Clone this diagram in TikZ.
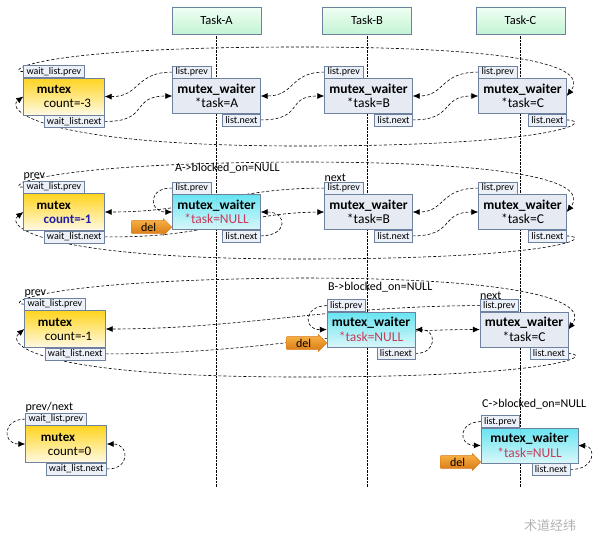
\documentclass[tikz,border=0pt]{standalone}
\usepackage{fontspec}
\setmainfont{Carlito}
\newfontfamily\cjk{Noto Sans CJK SC}
\usetikzlibrary{arrows.meta,shapes.arrows,backgrounds}

\definecolor{lineblue}{RGB}{110,130,160}
\definecolor{lblfill}{RGB}{236,240,248}
\definecolor{wtrfill}{RGB}{230,234,243}
\definecolor{mtxtop}{RGB}{255,212,30}
\definecolor{mtxbot}{RGB}{255,250,228}
\definecolor{cyantop}{RGB}{70,226,240}
\definecolor{cyanbot}{RGB}{214,250,252}
\definecolor{tasktop}{RGB}{240,255,244}
\definecolor{taskbot}{RGB}{196,243,212}
\definecolor{deltop}{RGB}{250,180,70}
\definecolor{delbot}{RGB}{215,120,20}
\definecolor{nullred}{RGB}{200,60,90}
\definecolor{cntblue}{RGB}{30,30,170}

\tikzset{
  task/.style={draw=lineblue, top color=tasktop, bottom color=taskbot, minimum width=89pt, minimum height=27pt, font=\fontsize{12.5}{14}\selectfont},
  mtx/.style={draw=lineblue, top color=mtxtop, bottom color=mtxbot, minimum width=81pt, minimum height=37pt, align=left, inner sep=1pt, font=\fontsize{13}{14}\selectfont},
  wtr/.style={draw=lineblue, fill=wtrfill, minimum width=88pt, minimum height=35pt, align=center, inner sep=1pt, font=\fontsize{13.5}{14.5}\selectfont},
  wtrnull/.style={wtr, top color=cyantop, bottom color=cyanbot, fill opacity=0.8, text opacity=1},
  lbl/.style={draw=lineblue, fill=lblfill, inner xsep=3pt, inner ysep=0pt, minimum height=12pt, font=\fontsize{10}{11}\selectfont},
  conn/.style={densely dashed, line width=0.6pt, -{Latex[length=7pt,width=6pt]}},
  delarrow/.style={single arrow, draw=delbot, top color=deltop, bottom color=delbot, minimum height=40pt, single arrow head extend=2pt, inner sep=2pt, font=\fontsize{12}{13}\selectfont},
  note/.style={inner sep=0pt, font=\fontsize{12}{13}\selectfont},
}

\begin{document}
\begin{tikzpicture}[x=1pt,y=-1pt]
\useasboundingbox (0,0) rectangle (596,551);

% tasks
\node[task] (ta) at (216.5,20.5) {Task-A};
\node[task] (tb) at (367,20.5) {Task-B};
\node[task] (tc) at (520.5,20.5) {Task-C};
\coordinate (bot) at (0,487);

% row 1: three waiters
\node[mtx] (m1) at (64,96.5) {\textbf{mutex}\\\hspace*{7pt}count=-3};
\node[lbl, anchor=south west] (m1p) at (m1.north west) {wait\_list.prev};
\node[lbl, anchor=north east] (m1n) at (m1.south east) {wait\_list.next};

\node[wtr] (a1) at (216.5,96) {\textbf{mutex\_waiter}\\*task=A};
\node[lbl, anchor=south west] (a1p) at (a1.north west) {list.prev};
\node[lbl, anchor=north east] (a1n) at (a1.south east) {list.next};

\node[wtr] (b1) at (368.5,96) {\textbf{mutex\_waiter}\\*task=B};
\node[lbl, anchor=south west] (b1p) at (b1.north west) {list.prev};
\node[lbl, anchor=north east] (b1n) at (b1.south east) {list.next};

\node[wtr] (c1) at (522.5,96) {\textbf{mutex\_waiter}\\*task=C};
\node[lbl, anchor=south west] (c1p) at (c1.north west) {list.prev};
\node[lbl, anchor=north east] (c1n) at (c1.south east) {list.next};

% row 2: A removed
\node[mtx] (m2) at (64,212) {\textbf{mutex}\\\hspace*{7pt}\textcolor{cntblue}{\textbf{count=-1}}};
\node[lbl, anchor=south west] (m2p) at (m2.north west) {wait\_list.prev};
\node[lbl, anchor=north east] (m2n) at (m2.south east) {wait\_list.next};
\node[note, anchor=south west] (pv2) at (m2p.north west) {prev};

\node[wtrnull] (a2) at (216.5,212) {\textbf{mutex\_waiter}\\\textcolor{nullred}{*task=NULL}};
\node[lbl, anchor=south west] (a2p) at (a2.north west) {list.prev};
\node[lbl, anchor=north east] (a2n) at (a2.south east) {list.next};
\node[note, anchor=west] (na2) at (175,168) {A->blocked\_on=NULL};
\node[delarrow, anchor=tip] (d2) at (172,227) {del};

\node[wtr] (b2) at (368.5,212) {\textbf{mutex\_waiter}\\*task=B};
\node[lbl, anchor=south west] (b2p) at (b2.north west) {list.prev};
\node[lbl, anchor=north east] (b2n) at (b2.south east) {list.next};
\node[note, anchor=south west] (nx2) at (b2p.north west) {next};

\node[wtr] (c2) at (522.5,212) {\textbf{mutex\_waiter}\\*task=C};
\node[lbl, anchor=south west] (c2p) at (c2.north west) {list.prev};
\node[lbl, anchor=north east] (c2n) at (c2.south east) {list.next};

% row 3: B removed
\node[mtx] (m3) at (65,329) {\textbf{mutex}\\\hspace*{7pt}count=-1};
\node[lbl, anchor=south west] (m3p) at (m3.north west) {wait\_list.prev};
\node[lbl, anchor=north east] (m3n) at (m3.south east) {wait\_list.next};
\node[note, anchor=south west] (pv3) at (m3p.north west) {prev};

\node[wtrnull] (b3) at (371,329.5) {\textbf{mutex\_waiter}\\\textcolor{nullred}{*task=NULL}};
\node[lbl, anchor=south west] (b3p) at (b3.north west) {list.prev};
\node[lbl, anchor=north east] (b3n) at (b3.south east) {list.next};
\node[note, anchor=west] (nb3) at (328,287) {B->blocked\_on=NULL};
\node[delarrow, anchor=tip] (d3) at (327,343) {del};

\node[wtr] (c3) at (524,329.5) {\textbf{mutex\_waiter}\\*task=C};
\node[lbl, anchor=south west] (c3p) at (c3.north west) {list.prev};
\node[lbl, anchor=north east] (c3n) at (c3.south east) {list.next};
\node[note, anchor=south west] (nx3) at (c3p.north west) {next};

% row 4: C removed, list empty
\node[mtx] (m4) at (66,444) {\textbf{mutex}\\\hspace*{7pt}count=0};
\node[lbl, anchor=south west] (m4p) at (m4.north west) {wait\_list.prev};
\node[lbl, anchor=north east] (m4n) at (m4.south east) {wait\_list.next};
\node[note, anchor=south west] (pv4) at (m4p.north west) {prev/next};

\node[wtrnull, minimum width=97pt] (c4) at (529.5,445.5) {\textbf{mutex\_waiter}\\\textcolor{nullred}{*task=NULL}};
\node[lbl, anchor=south west] (c4p) at (c4.north west) {list.prev};
\node[lbl, anchor=north east] (c4n) at ([xshift=-8pt]c4.south east) {list.next};
\node[note, anchor=west] (nc4) at (482,404) {C->blocked\_on=NULL};
\node[delarrow, anchor=tip] (d4) at (481,462) {del};

\node[text=gray!60, font=\cjk\fontsize{13}{14}\selectfont] (wm) at (550,526) {术道经纬};

\begin{pgfonlayer}{background}
\draw[densely dotted] (ta.south) -- (ta.south |- bot);
\draw[densely dotted] (tb.south) -- (tb.south |- bot);
\draw[densely dotted] (tc.south) -- (tc.south |- bot);

% row 1
\draw[conn] (m1n.east) .. controls (150,122) and (130,96) .. (a1.west);
\draw[conn] (a1p.west) .. controls (135,72) and (140,97) .. (m1.east);
\draw[conn] (a1n.east) .. controls (305,120) and (285,96) .. (b1.west);
\draw[conn] (b1p.west) .. controls (290,72) and (295,96) .. (a1.east);
\draw[conn] (b1n.east) .. controls (455,120) and (440,96) .. (c1.west);
\draw[conn] (c1p.west) .. controls (440,72) and (445,96) .. (b1.east);
\draw[conn] (m1p.west) .. controls (5,72) and (30,47) .. (300,47) .. controls (520,47) and (590,66) .. (c1.east);
\draw[conn] (c1n.east) .. controls (595,121) and (560,146) .. (300,146) .. controls (40,146) and (5,110) .. (m1.west);

% row 2
\draw[conn] (a2p.west) .. controls (148,187) and (148,212) .. (a2.west);
\draw[conn] (a2n.east) .. controls (288,236) and (288,212) .. (a2.east);
\draw[conn] (m2n.east) .. controls (215,238) and (235,213) .. (b2.west);
\draw[conn] (b2p.west) .. controls (230,188) and (200,212) .. (m2.east);
\draw[conn] (b2n.east) .. controls (455,236) and (440,212) .. (c2.west);
\draw[conn] (c2p.west) .. controls (440,188) and (445,212) .. (b2.east);
\draw[conn] (m2p.west) .. controls (5,188) and (30,163) .. (300,162) .. controls (520,162) and (590,182) .. (c2.east);
\draw[conn] (c2n.east) .. controls (595,237) and (560,259) .. (300,259) .. controls (40,259) and (5,226) .. (m2.west);

% row 3
\draw[conn] (b3p.west) .. controls (303,306) and (303,330) .. (b3.west);
\draw[conn] (b3n.east) .. controls (437,354) and (437,330) .. (b3.east);
\draw[conn] (m3n.east) .. controls (260,354) and (330,330) .. (c3.west);
\draw[conn] (c3p.west) .. controls (330,306) and (240,329) .. (m3.east);
\draw[conn] (m3p.west) .. controls (5,305) and (30,280) .. (300,278) .. controls (520,278) and (590,300) .. (c3.east);
\draw[conn] (c3n.east) .. controls (595,355) and (560,377) .. (300,377) .. controls (40,377) and (5,345) .. (m3.west);

% row 4
\draw[conn] (m4p.west) .. controls (2,419) and (2,444) .. (m4.west);
\draw[conn] (m4n.east) .. controls (130,470) and (130,444) .. (m4.east);
\draw[conn] (c4p.west) .. controls (458,422) and (458,445) .. (c4.west);
\draw[conn] (c4n.east) .. controls (596,470) and (596,446) .. (c4.east);
\end{pgfonlayer}
\end{tikzpicture}
\end{document}
